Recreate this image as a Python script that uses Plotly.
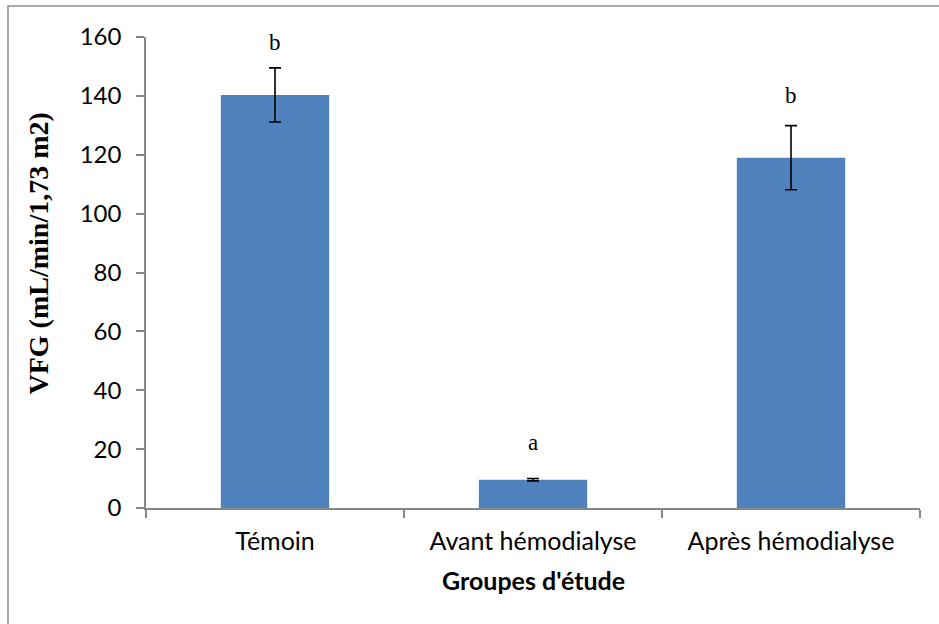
import plotly.graph_objects as go

# Study groups and mean GFR with standard deviations
groups = ["Témoin", "Avant hémodialyse", "Après hémodialyse"]
vfg_mean = [140.3, 9.6, 119.0]
vfg_sd = [9.2, 0.4, 10.9]

# Significance letters and the height at which each is written
sig_letters = ["b", "a", "b"]
letter_heights = [158.2, 22.4, 140.2]

y_ticks = [0, 20, 40, 60, 80, 100, 120, 140, 160]

BAR = "#4F81BD"
AXIS = "#868686"
SANS = "Lato, 'Open Sans', sans-serif"
SERIF = "'Liberation Serif', 'DejaVu Serif', serif"

fig = go.Figure()
fig.add_trace(go.Bar(
    x=groups,
    y=vfg_mean,
    marker=dict(color=BAR, line=dict(width=0)),
    error_y=dict(type="data", array=vfg_sd, visible=True,
                 color="#000000", thickness=1.6, width=6),
    showlegend=False,
    hoverinfo="x+y",
))

for g, letter, h in zip(groups, sig_letters, letter_heights):
    fig.add_annotation(x=g, y=h, text=letter, showarrow=False,
                       xref="x", yref="y", yanchor="middle",
                       font=dict(family=SERIF, size=23, color="#000000"))

# Axis titles
fig.add_annotation(x=0, y=0.5, xref="paper", yref="paper",
                   xshift=-108, yshift=19, showarrow=False,
                   text="<b>VFG (mL/min/1,73 m2)</b>", textangle=-90,
                   xanchor="center", yanchor="middle",
                   font=dict(family=SERIF, size=28, color="#000000"))
fig.add_annotation(x=0.5, y=0, xref="paper", yref="paper",
                   yshift=-72, showarrow=False,
                   text="<b>Groupes d'étude</b>",
                   xanchor="center", yanchor="middle",
                   font=dict(family=SANS, size=25, color="#000000"))

# Outer frame of the chart
fig.add_shape(type="rect", xref="paper", yref="paper",
              x0=-0.1783, x1=1.2, y0=-0.4, y1=1.0658,
              line=dict(color="#8C8C8C", width=1.5), fillcolor="rgba(0,0,0,0)",
              layer="below")

fig.update_layout(
    width=939, height=624,
    margin=dict(l=146, r=19, t=37, b=116),
    paper_bgcolor="white", plot_bgcolor="white",
    bargap=0.58,
    font=dict(family=SANS, color="#000000"),
)
fig.update_xaxes(
    type="category",
    showline=True, linecolor=AXIS, linewidth=1.5,
    ticks="outside", tickson="boundaries", ticklen=8,
    tickcolor=AXIS, tickwidth=1.5,
    tickfont=dict(family=SANS, size=25, color="#000000"),
    showgrid=False, zeroline=False,
    ticklabelstandoff=10,
)
fig.update_yaxes(
    range=[0, 160], tickvals=y_ticks,
    showline=True, linecolor=AXIS, linewidth=1.5,
    ticks="outside", ticklen=8, tickcolor=AXIS, tickwidth=1.5,
    tickfont=dict(family=SANS, size=24, color="#000000"),
    showgrid=False, zeroline=False,
    ticklabelstandoff=10,
)

fig.write_html("out.html")
